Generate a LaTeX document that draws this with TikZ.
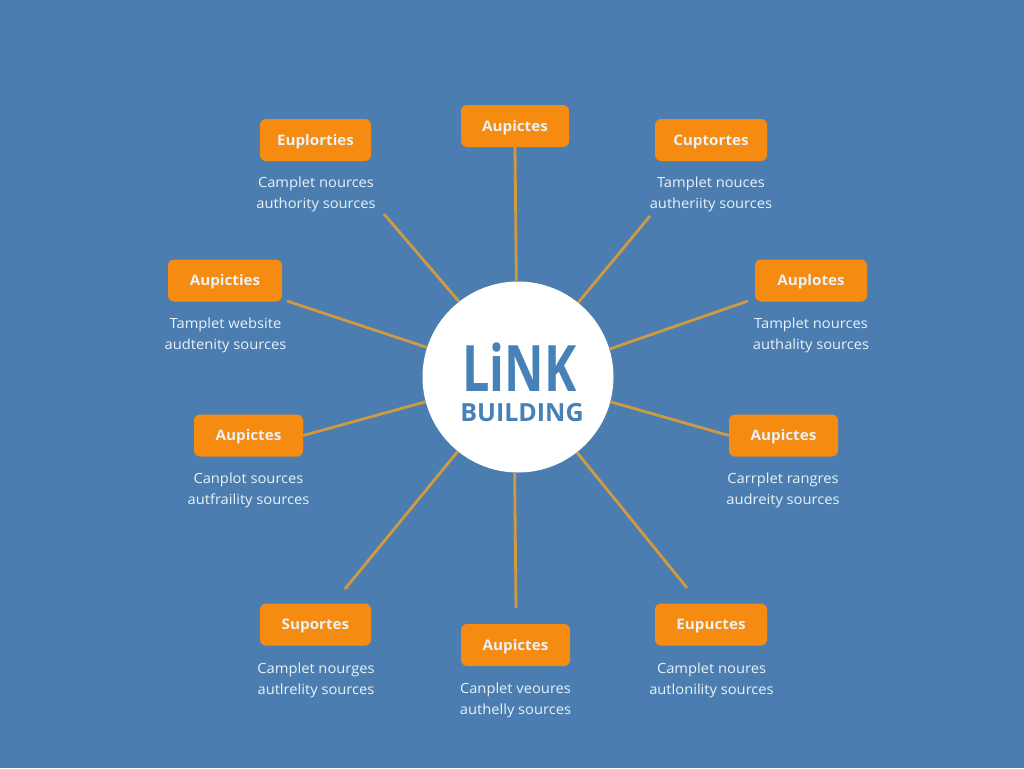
\documentclass[tikz,border=0pt]{standalone}
\usepackage{fontspec}
\setmainfont{Open Sans}
\newfontfamily\hubfont[FakeStretch=0.76]{Open Sans}
\newfontfamily\tagfont[FakeStretch=1.05]{Open Sans}
\newfontfamily\capfont[FakeStretch=1.05]{Open Sans}
\definecolor{bgblue}{HTML}{4C7DB0}
\definecolor{boxorange}{HTML}{F68B12}
\definecolor{linkgold}{HTML}{CF9A40}
\definecolor{hubblue}{HTML}{4682B8}
\definecolor{paletext}{HTML}{E9F2F8}
\tikzset{
  x=1pt,y=-1pt,
  tagbox/.style={draw=none,fill=boxorange,rounded corners=6pt,minimum width=#1,minimum height=42pt,inner sep=0pt,text=paletext,text height=12.5pt,text depth=2pt,font=\tagfont\fontsize{14.5}{17}\selectfont\bfseries},
  tagbox/.default=110pt,
  caption/.style={text=paletext,align=center,inner sep=0pt,font=\capfont\fontsize{14}{21.5}\selectfont},
  spoke/.style={draw=linkgold,line width=2.8pt},
  hubnode/.style={circle,fill=white,minimum size=191pt,inner sep=0pt},
  hubword/.style={text=hubblue,inner sep=0pt,anchor=base,text depth=0pt},
}
\begin{document}
\begin{tikzpicture}
\useasboundingbox[fill=bgblue] (0,0) rectangle (1024,768);
\node[hubnode] (hub) at (518,377) {};
\node[hubword,text height=46pt,font=\hubfont\fontsize{64}{64}\selectfont\bfseries] (linkword) at (519.5,391) {LiNK};
\node[hubword,text height=18pt,font=\fontsize{25}{25}\selectfont\bfseries] (buildword) at (522,421) {BUILDING};
% boxes
\node[tagbox=108pt] (b1) at (515,126) {Aupictes};
\node[tagbox=111pt] (b2) at (315.5,140) {Euplorties};
\node[tagbox=112pt] (b3) at (711,140) {Cuptortes};
\node[tagbox=114pt] (b4) at (225,280.5) {Aupicties};
\node[tagbox=112pt] (b5) at (811,280.5) {Auplotes};
\node[tagbox=109pt] (b6) at (248.5,435.5) {Aupictes};
\node[tagbox=109pt] (b7) at (783.5,435.5) {Aupictes};
\node[tagbox=111pt] (b8) at (315.5,624.5) {Suportes};
\node[tagbox=109pt] (b9) at (515.5,645) {Aupictes};
\node[tagbox=112pt] (b10) at (711,624.5) {Eupuctes};
% captions
\node[caption] (c2) at (316,194.5) {Camplet nources\\authority sources};
\node[caption] (c3) at (711,194.5) {Tamplet nouces\\autheriity sources};
\node[caption] (c4) at (225.5,335.5) {Tamplet website\\audtenity sources};
\node[caption] (c5) at (811,335.5) {Tamplet nources\\authality sources};
\node[caption] (c6) at (248.5,490.5) {Canplot sources\\autfraility sources};
\node[caption] (c7) at (783,490.5) {Carrplet rangres\\audreity sources};
\node[caption] (c8) at (316,680.5) {Camplet nourges\\autlrelity sources};
\node[caption] (c9) at (515.5,700.5) {Canplet veoures\\authelly sources};
\node[caption] (c10) at (711.5,680.5) {Camplet noures\\autlonility sources};
% free ends
\coordinate (e2) at (384,214);
\coordinate (e3) at (650,216);
\coordinate (e4) at (287,301);
\coordinate (e5) at (748,301);
\coordinate (e8) at (345,589);
\coordinate (e9) at (516,608);
\coordinate (e10) at (687,588);
% connectors
\draw[spoke] (b1.south) -- (hub.91);
\draw[spoke] (e2) -- (hub.128.3);
\draw[spoke] (e3) -- (hub.51.8);
\draw[spoke] (e4) -- (hub.162.9);
\draw[spoke] (e5) -- (hub.17.1);
\draw[spoke] (b6.east) -- (hub.195.4);
\draw[spoke] (b7.west) -- (hub.-15.6);
\draw[spoke] (e8) -- (hub.231.3);
\draw[spoke] (e9) -- (hub.268.8);
\draw[spoke] (e10) -- (hub.308.2);
\end{tikzpicture}
\end{document}
